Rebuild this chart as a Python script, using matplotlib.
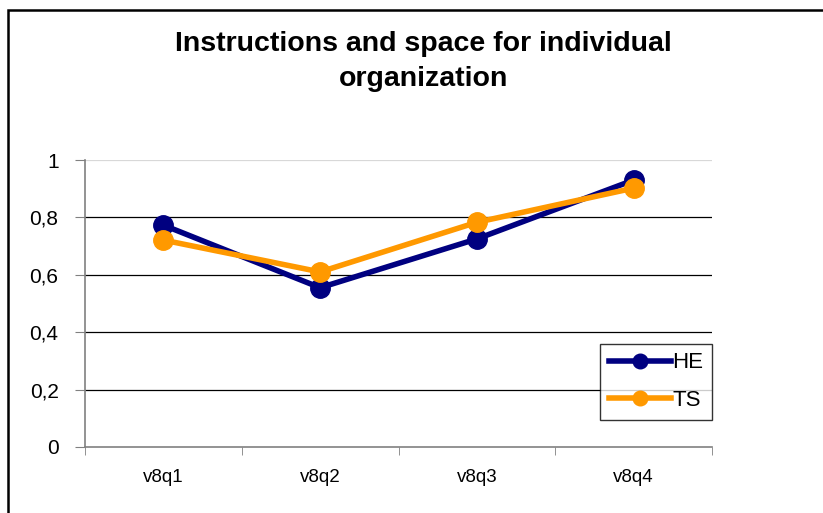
import matplotlib.pyplot as plt
from matplotlib.patches import Rectangle

plt.rcParams['font.family'] = ['Liberation Sans', 'DejaVu Sans']

categories = ["v8q1", "v8q2", "v8q3", "v8q4"]
he_values = [0.773, 0.555, 0.725, 0.930]
ts_values = [0.721, 0.610, 0.783, 0.902]
y_ticks = [0, 0.2, 0.4, 0.6, 0.8, 1.0]
y_labels = ["0", "0,2", "0,4", "0,6", "0,8", "1"]

fig = plt.figure(figsize=(8.23, 5.13), dpi=100)
# cadre extérieur du graphique (coupé à droite et en bas)
fig.patches.append(Rectangle((8 / 823, -0.1), 1.2, 1 - 10 / 513 + 0.1,
                             transform=fig.transFigure, fill=False,
                             edgecolor='black', linewidth=1.8))

ax = fig.add_axes([85 / 823, 1 - 447 / 513, 627 / 823, 287 / 513])
x = list(range(len(categories)))

for yv in y_ticks[1:-1]:
    ax.axhline(yv, color='black', linewidth=0.9, zorder=1)
ax.axhline(1.0, color='#d8d8d8', linewidth=0.9, zorder=1)

ax.plot(x, he_values, '-o', color='#000080', linewidth=4, markersize=14, label='HE', zorder=3)
ax.plot(x, ts_values, '-o', color='#FF9900', linewidth=4, markersize=14, label='TS', zorder=4)

ax.set_xlim(-0.5, 3.5)
ax.set_ylim(0, 1)
ax.set_xticks(x)
ax.set_xticklabels(categories, fontsize=13.5)
ax.tick_params(axis='x', length=0, pad=16)
ax.set_xticks([-0.5, 0.5, 1.5, 2.5, 3.5], minor=True)
ax.tick_params(axis='x', which='minor', length=6, color='#808080', direction='out')
ax.set_yticks(y_ticks)
ax.set_yticklabels(y_labels, fontsize=15)
ax.tick_params(axis='y', length=7, color='#808080', pad=12)

for side in ['top', 'right']:
    ax.spines[side].set_visible(False)
for side in ['left', 'bottom']:
    ax.spines[side].set_color('#808080')
    ax.spines[side].set_linewidth(1.2)

leg = ax.legend(loc='lower right', bbox_to_anchor=(1.0, 0.094), borderaxespad=0,
                fontsize=16, frameon=True, fancybox=False, edgecolor='black',
                handlelength=2.8, handletextpad=0.05, markerscale=0.75,
                borderpad=0.4, labelspacing=0.75)
leg.get_frame().set_linewidth(1.0)
leg.set_zorder(5)

fig.text(0.515, 1 - 44 / 513, "Instructions and space for individual", ha='center', va='center',
         fontsize=20.5, fontweight='bold')
fig.text(0.515, 1 - 79 / 513, "organization", ha='center', va='center',
         fontsize=20.5, fontweight='bold')

fig.savefig("out.png", dpi=100)
